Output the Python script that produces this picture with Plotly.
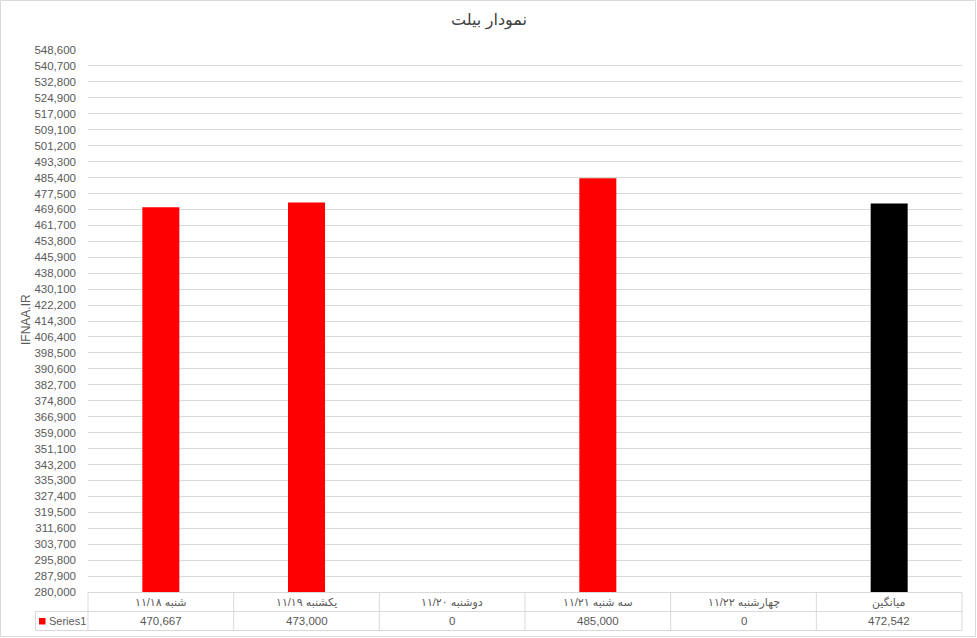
import plotly.graph_objects as go

categories = ["شنبه ۱۱/۱۸", "یکشنبه ۱۱/۱۹", "دوشنبه ۱۱/۲۰", "سه شنبه ۱۱/۲۱", "چهارشنبه ۱۱/۲۲", "میانگین"]
values = [470667, 473000, 0, 485000, 0, 472542]
value_labels = ["470,667", "473,000", "0", "485,000", "0", "472,542"]
bar_colors = ["#FF0000", "#FF0000", "#FF0000", "#FF0000", "#FF0000", "#000000"]
series_name = "Series1"
title_text = "نمودار بیلت"
y_title = "IFNAA.IR"
y_min, y_max, y_step = 280000, 548600, 7900

W, H = 977, 638
L, R, T, B = 88, 15, 50, 46
PW, PH = W - L - R, H - T - B

def px_x(p):
    return (p - L) / PW

def px_y(p):
    return (H - B - p) / PH

FONT = "Liberation Sans, DejaVu Sans, sans-serif"
GRAY = "#595959"
LINE = "#d9d9d9"

fig = go.Figure(go.Bar(
    x=list(range(len(categories))), y=values, marker_color=bar_colors,
    marker_line_width=0, name=series_name, showlegend=False,
    hoverinfo="skip",
))

n = len(categories)
shapes = []
# outer chart border
shapes.append(dict(type="rect", xref="paper", yref="paper",
                   x0=px_x(0.5), x1=px_x(975.5), y0=px_y(636.5), y1=px_y(0.5),
                   line=dict(color=LINE, width=1), layer="below"))
# table horizontal lines
y_top, y_mid, y_bot = 592.5, 611.5, 630.5
shapes.append(dict(type="line", xref="paper", yref="paper", x0=0, x1=1,
                   y0=px_y(y_top), y1=px_y(y_top), line=dict(color=LINE, width=1)))
for yy in (y_mid, y_bot):
    shapes.append(dict(type="line", xref="paper", yref="paper", x0=px_x(35.5), x1=1,
                       y0=px_y(yy), y1=px_y(yy), line=dict(color=LINE, width=1)))
# vertical lines
for k in range(n + 1):
    xp = k / n
    shapes.append(dict(type="line", xref="paper", yref="paper", x0=xp, x1=xp,
                       y0=px_y(y_top), y1=px_y(y_bot), line=dict(color=LINE, width=1)))
shapes.append(dict(type="line", xref="paper", yref="paper", x0=px_x(35.5), x1=px_x(35.5),
                   y0=px_y(y_mid), y1=px_y(y_bot), line=dict(color=LINE, width=1)))
# legend key
shapes.append(dict(type="rect", xref="paper", yref="paper", x0=px_x(39), x1=px_x(45.5),
                   y0=px_y(624.5), y1=px_y(618), fillcolor="#FF0000", line=dict(width=0)))

annotations = []
for i, (c, v) in enumerate(zip(categories, value_labels)):
    annotations.append(dict(x=i, xref="x", y=px_y(602), yref="paper", text=c,
                            showarrow=False, font=dict(family=FONT, size=11, color=GRAY),
                            yanchor="middle"))
    annotations.append(dict(x=i, xref="x", y=px_y(621), yref="paper", text=v,
                            showarrow=False, font=dict(family=FONT, size=11.5, color=GRAY),
                            yanchor="middle"))
annotations.append(dict(x=px_x(47), xref="paper", y=px_y(621), yref="paper", text=series_name,
                        showarrow=False, xanchor="left", yanchor="middle",
                        font=dict(family=FONT, size=11, color=GRAY)))
annotations.append(dict(x=px_x(26), xref="paper", y=px_y(320), yref="paper", text=y_title,
                        showarrow=False, textangle=-90, xanchor="center", yanchor="middle",
                        font=dict(family=FONT, size=12, color=GRAY)))
annotations.append(dict(x=px_x(489), xref="paper", y=px_y(20), yref="paper", text=title_text,
                        showarrow=False, xanchor="center", yanchor="middle",
                        font=dict(family=FONT, size=16, color="#404040")))

fig.update_layout(
    width=W, height=H, margin=dict(l=L, r=R, t=T, b=B, autoexpand=False),
    paper_bgcolor="white", plot_bgcolor="white",
    bargap=0.746, shapes=shapes, annotations=annotations,
    xaxis=dict(range=[-0.5, n - 0.5], showticklabels=False, showgrid=False,
               zeroline=False, showline=False, ticks="", fixedrange=True),
    yaxis=dict(range=[y_min, y_max], tick0=y_min, dtick=y_step, tickformat=",",
               showgrid=True, gridcolor=LINE, gridwidth=1, zeroline=False,
               showline=False, ticks="", ticklabelstandoff=11,
               tickfont=dict(family=FONT, size=11.5, color=GRAY)),
    showlegend=False,
)
fig.write_html("out.html", config={"displayModeBar": False},
               post_script="document.body.style.margin='0';document.body.style.overflow='hidden';")
